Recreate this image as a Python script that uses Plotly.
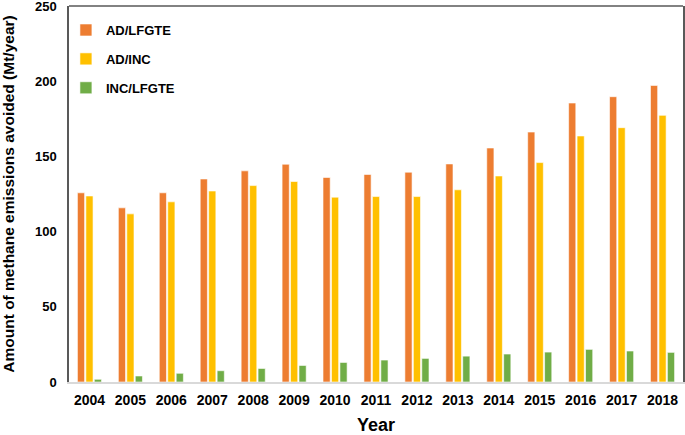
import plotly.graph_objects as go

years = ["2004", "2005", "2006", "2007", "2008", "2009", "2010", "2011",
         "2012", "2013", "2014", "2015", "2016", "2017", "2018"]
ad_lfgte = [125.8, 115.8, 125.8, 135.0, 140.4, 144.8, 136.0, 138.0,
            139.5, 145.0, 155.6, 166.2, 185.5, 189.7, 197.2]
ad_inc = [123.7, 111.8, 119.8, 127.0, 130.6, 133.3, 122.9, 123.3,
          123.3, 127.8, 137.0, 145.9, 163.6, 169.1, 177.3]
inc_lfgte = [1.8, 4.0, 5.8, 7.5, 9.0, 11.0, 13.0, 14.6,
             15.7, 17.2, 18.6, 19.9, 21.7, 20.6, 19.7]
y_ticks = [0, 50, 100, 150, 200, 250]

series = [("AD/LFGTE", ad_lfgte, "#ED7D31"),
          ("AD/INC", ad_inc, "#FFC000"),
          ("INC/LFGTE", inc_lfgte, "#70AD47")]

fig = go.Figure()
for name, vals, col in series:
    fig.add_trace(go.Bar(x=years, y=vals, name=name, legendgroup=name,
                         marker=dict(color=col, line=dict(color="white", width=0.6))))

font = "Liberation Sans, Arial, sans-serif"
fig.update_layout(
    width=685, height=435,
    margin=dict(l=69, r=2, t=6, b=53, autoexpand=False),
    paper_bgcolor="white", plot_bgcolor="white",
    barmode="group", bargap=0.38, bargroupgap=0.15,
    font=dict(family=font, color="black"),
    showlegend=True,
    legend=dict(x=-0.005, y=0.976, xanchor="left", yanchor="top",
                font=dict(size=13, family=font, color="black", weight="bold"),
                tracegroupgap=9, traceorder="grouped", bgcolor="rgba(0,0,0,0)"),
    xaxis=dict(showline=True, linecolor="#D9D9D9", linewidth=1.5,
               showgrid=False, ticks="", zeroline=False, automargin=False,
               tickfont=dict(size=14, weight="bold"), ticklabelstandoff=4,
               title=dict(text="Year", font=dict(size=18, weight="bold"), standoff=22)),
    yaxis=dict(range=[0, 250.01], tickvals=y_ticks, ticklabeloverflow="allow",
               showline=True, mirror=True, automargin=False,
               linecolor="#595959", linewidth=1.5, showgrid=False, zeroline=False,
               ticks="", tickfont=dict(size=13, weight="bold"), ticklabelstandoff=8,
               title=dict(text="Amount of methane emissions avoided (Mt/year)",
                          font=dict(size=15.5, weight="bold"), standoff=17)),
    shapes=[dict(type="line", xref="paper", yref="paper", x0=0, x1=1, y0=1, y1=1,
                 line=dict(color="#595959", width=1.5))],
)

fig.write_html("out.html", config={"displayModeBar": False},
               post_script="document.body.style.margin='0px';")
